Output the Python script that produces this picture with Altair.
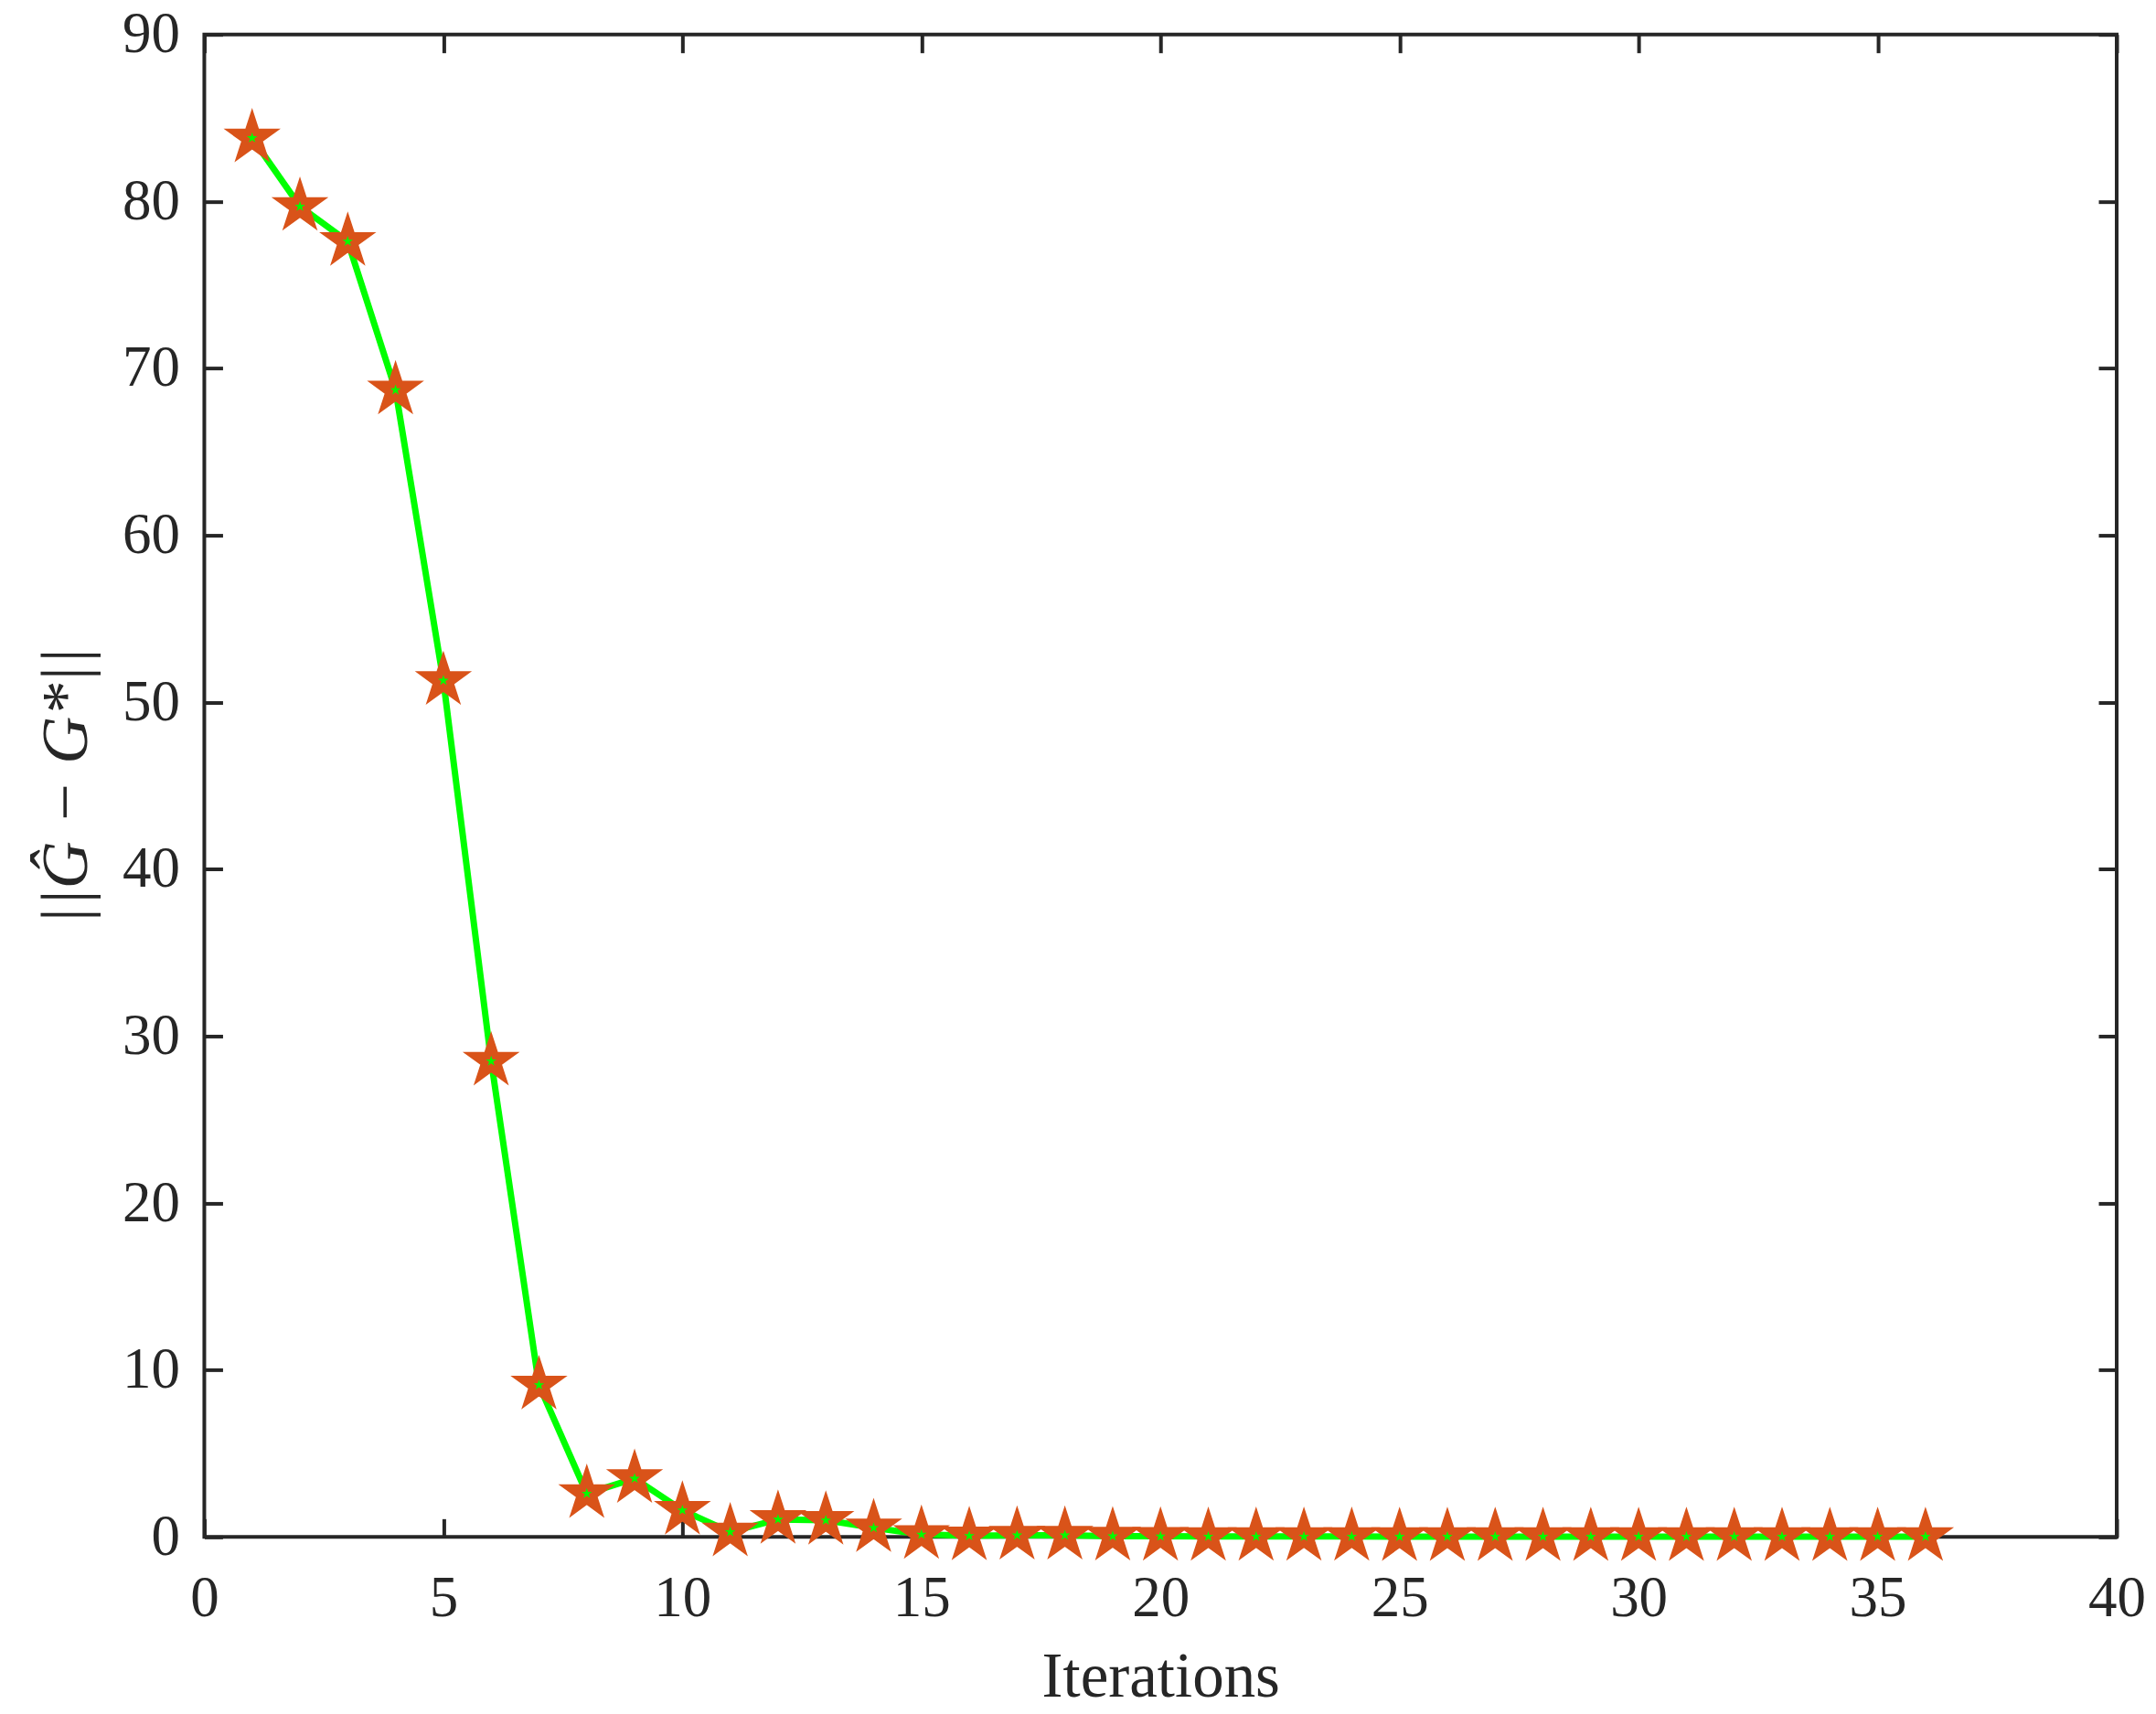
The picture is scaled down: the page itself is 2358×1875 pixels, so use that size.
import altair as alt
import pandas as pd

iterations = list(range(1, 37))
errors = [83.8, 79.7, 77.6, 68.7, 51.3, 28.5, 9.1, 2.6, 3.5, 1.6,
          0.3, 1.05, 1.0, 0.55, 0.15, 0.07, 0.1, 0.1, 0.05, 0.04,
          0.03, 0.03, 0.03, 0.03, 0.02, 0.02, 0.02, 0.02, 0.02, 0.02,
          0.02, 0.02, 0.02, 0.02, 0.02, 0.02]
x_ticks = [0, 5, 10, 15, 20, 25, 30, 35, 40]
y_ticks = [0, 10, 20, 30, 40, 50, 60, 70, 80, 90]

df = pd.DataFrame({"it": iterations, "err": errors})

STAR = ("M0,-1L0.2245,-0.309L0.951,-0.309L0.3633,0.118L0.5878,0.809"
        "L0,0.382L-0.5878,0.809L-0.3633,0.118L-0.951,-0.309L-0.2245,-0.309Z")

AX = "#262626"
FONT = "Liberation Serif"
TL = 20

xscale = alt.Scale(domain=[0, 40], nice=False, zero=False)
yscale = alt.Scale(domain=[0, 90], nice=False)

x_bottom = alt.Axis(values=x_ticks, title="Iterations", domain=False, grid=False,
                    tickColor=AX, tickWidth=4, tickSize=TL, offset=-TL,
                    labelFont=FONT, labelFontSize=63, labelColor=AX,
                    labelFlush=False, labelOverlap=False,
                    labelPadding=36, titleFont=FONT, titleFontSize=69,
                    titleFontWeight="normal", titleColor=AX, titlePadding=20)
y_left = alt.Axis(values=y_ticks, title="||Ĝ − G*||", domain=False, grid=False,
                  tickColor=AX, tickWidth=4, tickSize=TL, offset=-TL,
                  labelFont=FONT, labelFontSize=63, labelColor=AX,
                  labelFlush=False, labelOverlap=False,
                  labelPadding=27, titleFont=FONT, titleFontSize=72,
                  titleFontStyle="italic", titleFontWeight="normal",
                  titleColor=AX, titlePadding=24)
x_top = alt.Axis(values=x_ticks, orient="top", title=None, labels=False,
                 domain=False, grid=False, tickColor=AX, tickWidth=4,
                 tickSize=TL, offset=-TL)
y_right = alt.Axis(values=y_ticks, orient="right", title=None, labels=False,
                   domain=False, grid=False, tickColor=AX, tickWidth=4,
                   tickSize=TL, offset=-TL)

line = alt.Chart(df).mark_line(color="#00FF00", strokeWidth=7).encode(
    x=alt.X("it:Q", scale=xscale, axis=x_bottom),
    y=alt.Y("err:Q", scale=yscale, axis=y_left),
)

stars = alt.Chart(df).mark_point(shape=STAR, filled=True, fill="#D95319",
                                 stroke="#D95319", strokeWidth=1.5,
                                 size=3700, opacity=1).encode(
    x=alt.X("it:Q", scale=xscale, axis=x_top),
    y=alt.Y("err:Q", scale=yscale, axis=y_right),
)

small = alt.Chart(df).mark_point(shape=STAR, filled=True, fill="#00FF00",
                                 strokeWidth=0, size=150, opacity=1).encode(
    x=alt.X("it:Q", scale=xscale, axis=None),
    y=alt.Y("err:Q", scale=yscale, axis=None),
)

chart = alt.layer(line, stars, small).resolve_axis(
    x="independent", y="independent"
).properties(
    width=2092, height=1644,
    autosize=alt.AutoSizeParams(type="none"),
    padding={"left": 215.5, "top": 29.5, "right": 35, "bottom": 185},
    background="white",
).configure_view(stroke=AX, strokeWidth=4)

chart.save("out.html", embed_options={"renderer": "svg", "actions": False})
